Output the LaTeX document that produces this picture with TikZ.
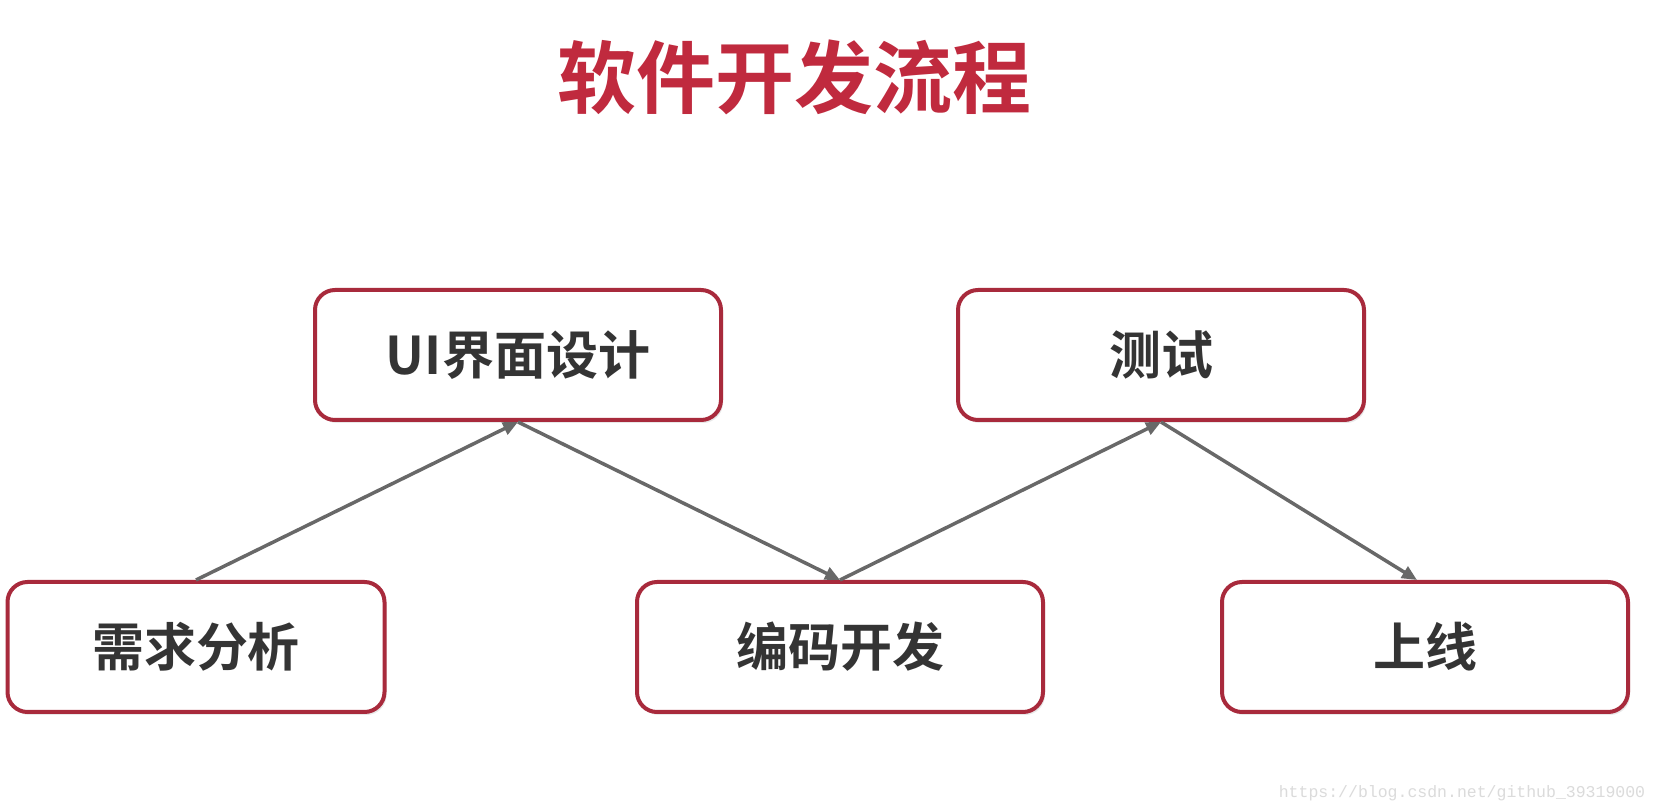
\documentclass[tikz,border=0pt]{standalone}
\usepackage{fontspec}
\setmainfont{Liberation Sans}
\newfontfamily\cjk{Noto Sans CJK SC}[BoldFont={Noto Sans CJK SC Bold}]
\newfontfamily\urlfont{Liberation Mono}
\usepackage{xcolor}
\usetikzlibrary{arrows.meta, shadows}
\definecolor{titlered}{RGB}{192,42,62}
\definecolor{boxred}{RGB}{168,42,60}
\definecolor{textgray}{RGB}{52,52,52}
\definecolor{linegray}{RGB}{104,104,104}
\tikzset{
  stage/.style={draw=boxred, line width=4pt, rounded corners=20pt, fill=white,
    minimum width=406pt, minimum height=130pt, align=center, text=textgray,
    font=\cjk\bfseries\fontsize{52}{60}\selectfont,
    drop shadow={opacity=0.18, shadow xshift=2pt, shadow yshift=-3pt}},
  arrow/.style={-{Triangle[length=15pt, width=13pt]}, line width=3.5pt, linegray},
  title/.style={text=titlered, font=\cjk\bfseries\fontsize{79}{90}\selectfont},
  mark url/.style={text=black!14, font=\urlfont\fontsize{16.5}{18}\selectfont}
}
\begin{document}
\begin{tikzpicture}[x=1pt, y=1pt]
    \useasboundingbox[fill=white] (0,0) rectangle (1658,811);
    \node[title] (heading) at (794,734) {软件开发流程};

    % the five stages
    \node[stage] (ui) at (518,456) {UI界面设计};
    \node[stage] (test) at (1161,456) {测试};
    \node[stage, minimum width=377pt] (req) at (196,164) {需求分析};
    \node[stage] (code) at (840,164) {编码开发};
    \node[stage] (online) at (1425,164) {上线};

    \draw[arrow] (req.north) -- (ui.south);
    \draw[arrow] (ui.south) -- (code.north);
    \draw[arrow] (code.north) -- (test.south);
    \draw[arrow] (test.south) -- ([xshift=-8pt]online.north);

    \node[mark url] (wm) at (1462,18) {https://blog.csdn.net/github\_39319000};
\end{tikzpicture}
\end{document}
